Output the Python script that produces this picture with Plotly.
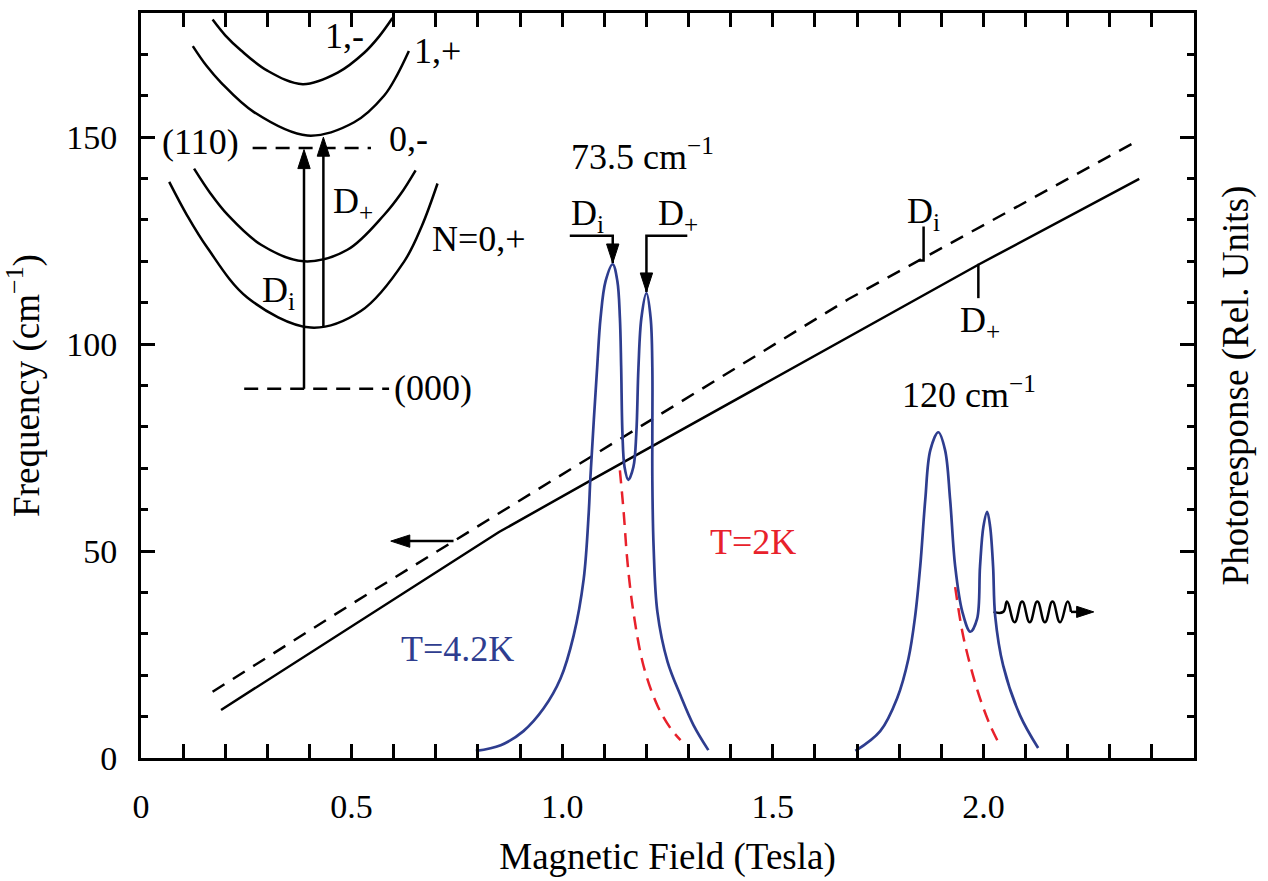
import plotly.graph_objects as go

FONT = "Liberation Serif, Times New Roman, Times, serif"
BLUE = "#2E3D8F"
RED = "#E8212B"

# Theoretical transition frequencies vs magnetic field
dplus_B = [0.19, 0.50, 0.85, 1.07, 1.99, 2.37]
dplus_f = [11.6, 31.7, 54.6, 67.2, 119.3, 139.9]
di_B = [0.17, 0.50, 0.99, 1.68, 2.36]
di_f = [16.0, 37.2, 67.9, 110.9, 148.8]

# Photoresponse at 73.5 cm^-1, T = 4.2 K
p735_B = [0.795, 0.854, 0.908, 0.956, 0.996, 1.027, 1.051, 1.063, 1.067, 1.083, 1.091,
          1.103, 1.120, 1.131, 1.137, 1.140, 1.143, 1.148, 1.157, 1.169, 1.176, 1.181,
          1.188, 1.200, 1.210, 1.214, 1.214, 1.214, 1.217, 1.226, 1.250, 1.281, 1.312, 1.347]
p735_S = [1.7, 3.1, 6.5, 12.0, 19.2, 29.5, 43.2, 59.3, 67.9, 94.4, 106.3,
          115.2, 119.3, 115.2, 106.3, 94.4, 78.5, 70.3, 67.2, 70.3, 78.5, 94.3,
          106.3, 112.3, 106.3, 94.3, 78.5, 67.2, 51.1, 35.3, 23.3, 15.1, 7.9, 1.9]
# T = 2 K tail of the D_i line
p735_2K_B = [1.137, 1.146, 1.155, 1.169, 1.193, 1.226, 1.257, 1.281]
p735_2K_S = [69.5, 59.3, 47.3, 35.3, 22.3, 12.7, 7.2, 4.3]

# Photoresponse at 120 cm^-1, T = 4.2 K
p120_B = [1.696, 1.755, 1.795, 1.822, 1.838, 1.850, 1.862, 1.874, 1.893, 1.909, 1.921,
          1.933, 1.950, 1.969, 1.985, 1.992, 2.000, 2.009, 2.016, 2.023, 2.028, 2.047,
          2.087, 2.130]
p120_S = [1.7, 6.5, 14.4, 24.0, 34.3, 46.3, 62.4, 74.4, 78.7, 74.4, 62.4,
          46.3, 35.3, 30.5, 33.6, 46.3, 55.9, 59.5, 55.9, 46.3, 34.3, 22.3,
          10.3, 2.4]
p120_2K_B = [1.933, 1.950, 1.969, 1.992, 2.016, 2.040]
p120_2K_S = [41.3, 30.5, 22.3, 14.4, 7.9, 2.9]

# Inset: Landau-level scheme (schematic)
lvl_1m_x = [0.170, 0.200, 0.237, 0.301, 0.384, 0.467, 0.530, 0.565, 0.597]
lvl_1m_y = [178.4, 174.6, 171.0, 166.0, 162.8, 165.6, 170.4, 174.3, 178.8]
lvl_1p_x = [0.123, 0.155, 0.190, 0.269, 0.395, 0.506, 0.577, 0.608, 0.636]
lvl_1p_y = [172.0, 167.3, 163.2, 156.0, 150.4, 153.6, 160.0, 165.0, 170.8]
lvl_0m_x = [0.126, 0.165, 0.206, 0.285, 0.387, 0.490, 0.577, 0.616, 0.652]
lvl_0m_y = [142.4, 136.4, 131.2, 124.0, 120.0, 122.8, 131.2, 136.2, 142.0]
lvl_0p_x = [0.067, 0.110, 0.158, 0.253, 0.403, 0.522, 0.625, 0.667, 0.704]
lvl_0p_y = [139.2, 131.0, 123.2, 111.2, 104.0, 108.0, 120.0, 128.6, 138.8]
state_110_x = [0.265, 0.546]
state_110_y = [147.4, 147.4]
state_000_x = [0.245, 0.589]
state_000_y = [89.2, 89.2]
inset_di_x = [0.387, 0.387]
inset_di_y = [89.2, 147.0]
inset_dp_x = [0.433, 0.433]
inset_dp_y = [104.2, 150.0]

# Pointers to the resonance peaks and lines
ptr_di_x = [1.018, 1.120, 1.120]
ptr_di_y = [126.2, 126.2, 119.6]
ptr_dp_x = [1.297, 1.200, 1.200]
ptr_dp_y = [126.2, 126.2, 112.6]
tick_di_x = [1.846, 1.858, 1.858]
tick_di_y = [120.2, 120.2, 128.4]
tick_dp_x = [1.988, 1.988]
tick_dp_y = [119.4, 111.1]
left_arrow_x = [0.742, 0.593]
left_arrow_y = [52.4, 52.4]
wave_x = [2.024, 2.047, 2.056, 2.074, 2.092, 2.110, 2.128, 2.146, 2.164, 2.182, 2.200, 2.208]
wave_y = [35.3, 35.3, 37.8, 32.8, 37.8, 32.8, 37.8, 32.8, 37.8, 32.8, 37.8, 35.3]
wave_arrow_x = [2.208, 2.262]
wave_arrow_y = [35.3, 35.3]

x_tick_vals = [0, 0.5, 1.0, 1.5, 2.0]
x_tick_text = ["0", "0.5", "1.0", "1.5", "2.0"]
y_tick_vals = [0, 50, 100, 150]
y_tick_text = ["0", "50", "100", "150"]

fig = go.Figure()


def line(x, y, color="black", width=2.5, dash="solid", yaxis="y", shape="linear",
         smoothing=1.0):
    fig.add_trace(go.Scatter(x=x, y=y, mode="lines", yaxis=yaxis,
                             line=dict(color=color, width=width, dash=dash, shape=shape,
                                       smoothing=smoothing),
                             hoverinfo="skip", showlegend=False))


def arrow(x, y, width=2.5, size=20):
    sizes = [0] * (len(x) - 1) + [size]
    fig.add_trace(go.Scatter(x=x, y=y, mode="lines+markers",
                             line=dict(color="black", width=width),
                             marker=dict(symbol="arrow", size=sizes, angleref="previous",
                                         color="black", opacity=1,
                                         line=dict(width=1, color="black")),
                             hoverinfo="skip", showlegend=False))


# theory lines
line(di_B, di_f, dash="14px,10px")
line(dplus_B, dplus_f)

# inset levels
for lx, ly in [(lvl_1m_x, lvl_1m_y), (lvl_1p_x, lvl_1p_y),
               (lvl_0m_x, lvl_0m_y), (lvl_0p_x, lvl_0p_y)]:
    line(lx, ly, shape="spline", smoothing=1.0)
line(state_110_x, state_110_y, dash="14px,9px")
line(state_000_x, state_000_y, dash="14px,9px")
arrow(inset_di_x, inset_di_y)
arrow(inset_dp_x, inset_dp_y)

# photoresponse
line(p735_2K_B, p735_2K_S, color=RED, dash="13px,8px", yaxis="y2", shape="spline")
line(p120_2K_B, p120_2K_S, color=RED, dash="13px,8px", yaxis="y2", shape="spline")
line(p735_B, p735_S, color=BLUE, width=2.7, yaxis="y2", shape="spline")
line(p120_B, p120_S, color=BLUE, width=2.7, yaxis="y2", shape="spline")

# pointers
arrow(ptr_di_x, ptr_di_y)
arrow(ptr_dp_x, ptr_dp_y)
line(tick_di_x, tick_di_y)
line(tick_dp_x, tick_dp_y)
arrow(left_arrow_x, left_arrow_y)
line(wave_x, wave_y, shape="spline", smoothing=1.3)
arrow(wave_arrow_x, wave_arrow_y, size=18)

labels = [
    ("(110)", 0.142, 148.8, "black"),
    ("(000)", 0.693, 89.3, "black"),
    ("1,-", 0.482, 174.5, "black"),
    ("1,+", 0.705, 170.9, "black"),
    ("0,-", 0.636, 149.5, "black"),
    ("N=0,+", 0.802, 125.5, "black"),
    ("D<sub>i</sub>", 0.327, 112.5, "black"),
    ("D<sub>+</sub>", 0.503, 134.0, "black"),
    ("73.5 cm<sup>−1</sup>", 1.191, 145.9, "black"),
    ("D<sub>i</sub>", 1.060, 131.0, "black"),
    ("D<sub>+</sub>", 1.274, 131.0, "black"),
    ("120 cm<sup>−1</sup>", 1.966, 88.3, "black"),
    ("D<sub>i</sub>", 1.857, 131.5, "black"),
    ("D<sub>+</sub>", 1.993, 105.3, "black"),
    ("T=4.2K", 0.752, 26.4, BLUE),
    ("T=2K", 1.452, 52.3, RED),
]
for text, lx, ly, col in labels:
    fig.add_annotation(x=lx, y=ly, xref="x", yref="y", text=text, showarrow=False,
                       font=dict(family=FONT, size=36, color=col))

axis_common = dict(showline=True, linewidth=3, linecolor="black", showgrid=False,
                   zeroline=False, ticks="inside", ticklen=14, tickwidth=2.5,
                   tickcolor="black", mirror="allticks",
                   tickfont=dict(family=FONT, size=34, color="black"))

fig.update_layout(
    width=1268, height=881,
    margin=dict(l=140, r=74, t=10, b=121),
    paper_bgcolor="white", plot_bgcolor="white",
    font=dict(family=FONT, color="black"),
    xaxis=dict(range=[0, 2.5], tickvals=x_tick_vals, ticktext=x_tick_text,
               minor=dict(dtick=0.1, tick0=0, ticklen=7, tickwidth=2.5, ticks="inside",
                          tickcolor="black"),
               ticklabelstandoff=16,
               title=dict(text="Magnetic Field (Tesla)", standoff=20,
                          font=dict(family=FONT, size=37, color="black")),
               **axis_common),
    yaxis=dict(range=[0, 180], tickvals=y_tick_vals, ticktext=y_tick_text,
               minor=dict(dtick=10, tick0=0, ticklen=7, tickwidth=2.5, ticks="inside",
                          tickcolor="black"),
               ticklabelstandoff=14,
               title=dict(text="Frequency (cm<sup>−1</sup>)", standoff=30,
                          font=dict(family=FONT, size=37, color="black")),
               **axis_common),
    yaxis2=dict(range=[0, 180], overlaying="y", side="right", showline=False,
                showgrid=False, zeroline=False, showticklabels=False, ticks="",
                title=dict(text="Photoresponse (Rel. Units)", standoff=28,
                           font=dict(family=FONT, size=37, color="black"))),
)

fig.write_html("out.html")
